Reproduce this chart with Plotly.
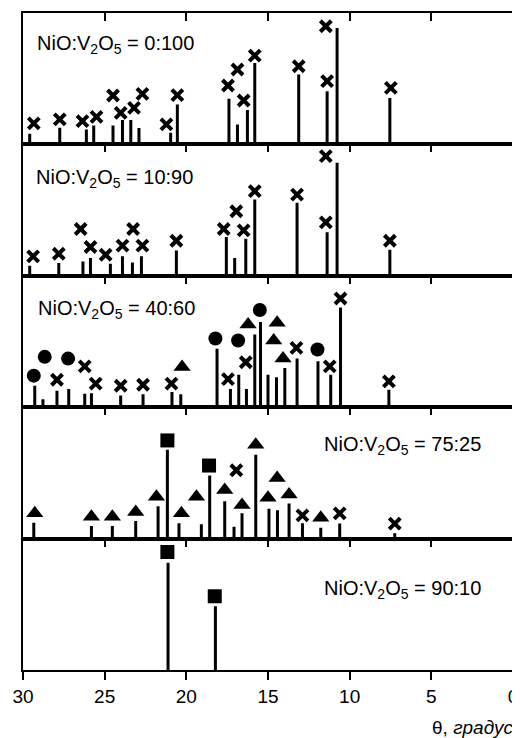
import plotly.graph_objects as go

# ---------------- data (theta in degrees, intensity in % of panel height) ----------------
labels = ["NiO:V<sub>2</sub>O<sub>5</sub> = 0:100",
          "NiO:V<sub>2</sub>O<sub>5</sub> = 10:90",
          "NiO:V<sub>2</sub>O<sub>5</sub> = 40:60",
          "NiO:V<sub>2</sub>O<sub>5</sub> = 75:25",
          "NiO:V<sub>2</sub>O<sub>5</sub> = 90:10"]

p1_x = [29.59, 27.75, 26.12, 25.67, 24.49, 23.91, 23.40, 22.90, 20.96, 20.55, 17.39, 16.87, 16.26, 15.81, 13.12, 11.38, 10.77, 7.54]
p1_h = [8.1, 12.7, 11.4, 14.4, 14.4, 18.5, 18.5, 12.4, 8.9, 30.4, 34.7, 15.2, 26.1, 62.0, 53.2, 40.5, 88.6, 35.4]
p1_mx = [29.34, 27.75, 26.36, 25.50, 24.49, 24.02, 23.20, 22.69, 21.22, 20.55, 17.45, 16.87, 16.49, 15.81, 13.12, 11.38, 11.46, 7.48]
p1_my = [16.0, 19.0, 17.7, 21.0, 37.2, 24.0, 27.8, 38.5, 15.2, 37.5, 44.8, 57.0, 33.4, 67.6, 59.5, 48.1, 89.9, 43.0]
p1_ms = ["x"] * 18

p2_x = [29.59, 27.81, 26.33, 25.87, 24.65, 23.91, 23.30, 22.75, 20.61, 17.55, 17.04, 16.36, 15.81, 13.22, 11.38, 10.77, 7.54]
p2_h = [7.6, 9.7, 10.9, 13.5, 9.2, 14.8, 10.2, 14.8, 19.3, 29.5, 13.5, 28.2, 58.0, 55.5, 33.1, 86.0, 19.8]
p2_mx = [29.38, 27.81, 26.47, 25.87, 24.94, 23.91, 23.26, 22.69, 20.61, 17.71, 16.94, 16.49, 15.81, 13.22, 11.46, 11.46, 7.54]
p2_my = [14.8, 16.8, 35.6, 21.9, 16.0, 22.9, 35.6, 22.9, 26.7, 35.6, 49.1, 34.6, 64.4, 61.8, 40.7, 91.1, 26.7]
p2_ms = ["x"] * 17

p3_x = [29.28, 28.78, 27.92, 27.20, 26.22, 25.81, 24.02, 22.65, 20.88, 20.34, 18.12, 17.30, 16.79, 16.32, 15.81, 15.46, 15.00, 14.48, 13.97, 13.22, 11.94, 11.16, 10.56, 7.60]
p3_h = [16.3, 6.1, 12.5, 13.8, 10.2, 10.7, 8.9, 9.9, 11.5, 9.9, 44.4, 13.8, 24.7, 13.8, 55.4, 64.8, 24.7, 22.7, 29.8, 37.0, 35.0, 24.7, 75.8, 13.3]
p3_mx = [29.34, 28.67, 27.92, 27.24, 26.22, 25.55, 24.02, 22.65, 20.91, 20.26, 18.22, 17.45, 16.83, 16.36, 16.22, 15.50, 14.44, 14.65, 14.08, 13.26, 11.97, 11.22, 10.56, 7.60]
p3_my = [24.0, 38.3, 20.9, 37.0, 31.1, 17.9, 16.3, 17.1, 17.9, 30.6, 52.3, 21.4, 50.8, 34.2, 63.0, 74.0, 64.3, 50.8, 37.0, 45.2, 43.9, 31.1, 82.7, 19.6]
p3_ms = ["c", "c", "x", "c", "x", "x", "x", "x", "x", "t", "c", "x", "c", "x", "t", "c", "t", "t", "t", "x", "c", "x", "x", "x"]

p4_x = [29.34, 25.81, 24.53, 23.10, 21.73, 21.16, 20.45, 19.08, 18.57, 17.65, 17.08, 16.59, 15.75, 14.94, 14.42, 13.71, 12.89, 11.77, 10.61, 7.24]
p4_h = [12.1, 9.6, 9.6, 13.4, 24.7, 67.7, 11.6, 10.9, 48.0, 28.5, 9.1, 19.2, 63.9, 22.7, 21.5, 26.8, 11.6, 8.3, 11.4, 4.0]
p4_mx = [29.28, 25.81, 24.53, 23.10, 21.83, 21.16, 20.30, 19.38, 18.61, 17.65, 16.94, 16.59, 15.75, 15.00, 14.44, 13.71, 12.89, 11.77, 10.61, 7.24]
p4_my = [19.2, 16.7, 16.7, 20.2, 31.8, 74.7, 19.2, 31.8, 55.6, 36.9, 52.0, 25.5, 71.5, 31.1, 46.2, 33.6, 17.7, 15.9, 19.2, 11.4]
p4_ms = ["t", "t", "t", "t", "t", "s", "t", "t", "s", "t", "x", "t", "t", "t", "t", "t", "x", "t", "x", "x"]

p5_x = [21.12, 18.22]
p5_h = [81.6, 48.5]
p5_mx = [21.16, 18.26]
p5_my = [89.8, 56.1]
p5_ms = ["s", "s"]

x_ticks = [30, 25, 20, 15, 10, 5, 0]

panels = [(p1_x, p1_h, p1_mx, p1_my, p1_ms),
          (p2_x, p2_h, p2_mx, p2_my, p2_ms),
          (p3_x, p3_h, p3_mx, p3_my, p3_ms),
          (p4_x, p4_h, p4_mx, p4_my, p4_ms),
          (p5_x, p5_h, p5_mx, p5_my, p5_ms)]

# ---------------- styles ----------------
SYM = {
    "x": dict(symbol="x-thin", size=11, line=dict(width=4, color="black"), color="black"),
    "c": dict(symbol="circle", size=14, line=dict(width=0), color="black"),
    "t": dict(symbol="triangle-up", size=15, line=dict(width=0), color="black"),
    "s": dict(symbol="square", size=14, line=dict(width=0), color="black"),
}
FONT = "Liberation Sans, Arial, sans-serif"

fig = go.Figure()
n = len(panels)
for i, (sx, sh, mx, my, ms) in enumerate(panels):
    k = i + 1
    xa = "x" if k == 1 else f"x{k}"
    ya = "y" if k == 1 else f"y{k}"
    lx, ly = [], []
    for xv, hv in zip(sx, sh):
        lx += [xv, xv, None]
        ly += [0, hv, None]
    fig.add_trace(go.Scatter(x=lx, y=ly, mode="lines", xaxis=xa, yaxis=ya,
                             line=dict(color="black", width=3), showlegend=False,
                             hoverinfo="skip"))
    for code, style in SYM.items():
        px = [a for a, c in zip(mx, ms) if c == code]
        py = [b for b, c in zip(my, ms) if c == code]
        if not px:
            continue
        fig.add_trace(go.Scatter(x=px, y=py, mode="markers", xaxis=xa, yaxis=ya,
                                 marker=style, showlegend=False, cliponaxis=False))

# dummy trace for the bottom labelled axis
fig.add_trace(go.Scatter(x=[None], y=[None], xaxis="x6", yaxis="y5", showlegend=False))

# the page body has an 8px margin, so margins are shifted by 8px
layout = dict(
    width=520, height=738,
    margin=dict(l=15, r=15, t=5, b=76),
    paper_bgcolor="white", plot_bgcolor="white",
    font=dict(family=FONT, color="black"),
)
for i in range(n):
    k = i + 1
    sfx = "" if k == 1 else str(k)
    dom = [1 - (i + 1) / n, 1 - i / n]
    layout[f"yaxis{sfx}"] = dict(domain=dom, range=[0, 100], showticklabels=False,
                                 ticks="", showgrid=False, zeroline=False,
                                 showline=True, mirror=True, linewidth=2,
                                 linecolor="black", anchor="x" + sfx, fixedrange=True,
                                 automargin=False)
    layout[f"xaxis{sfx}"] = dict(range=[30, 0], side="top", ticks="inside", ticklen=8,
                                 tickwidth=2, tickcolor="black",
                                 tickvals=x_ticks[1:-1], showticklabels=False,
                                 showgrid=False, zeroline=False, showline=True,
                                 mirror=True, linewidth=2, linecolor="black",
                                 anchor="y" + sfx, fixedrange=True, automargin=False)
layout["xaxis6"] = dict(range=[30, 0], side="bottom", overlaying="x5", anchor="y5",
                        ticks="outside", ticklen=8, tickwidth=2, tickcolor="black",
                        tickvals=x_ticks, ticktext=[str(t) for t in x_ticks],
                        tickfont=dict(family=FONT, size=19, color="black"),
                        showgrid=False, zeroline=False, showline=True,
                        linewidth=2, linecolor="black", fixedrange=True,
                        automargin=False)
fig.update_layout(**layout)

# panel labels
lab_pos = [(0.024, 0.764, "left"), (0.022, 0.744, "left"), (0.027, 0.74, "left"),
           (0.938, 0.712, "right"), (0.938, 0.61, "right")]
for i, (ax, ay, anc) in enumerate(lab_pos):
    k = i + 1
    sfx = "" if k == 1 else str(k)
    fig.add_annotation(xref=f"x{sfx} domain", yref=f"y{sfx} domain", x=ax, y=ay,
                       xanchor=anc, yanchor="middle", showarrow=False,
                       text=labels[i], font=dict(family=FONT, size=20, color="black"))

fig.add_annotation(xref="paper", yref="paper", x=1.004, y=-0.088, xanchor="right",
                   yanchor="middle", showarrow=False, text="θ, <i>градус</i>",
                   font=dict(family=FONT, size=19, color="black"))

fig.write_html("out.html")
